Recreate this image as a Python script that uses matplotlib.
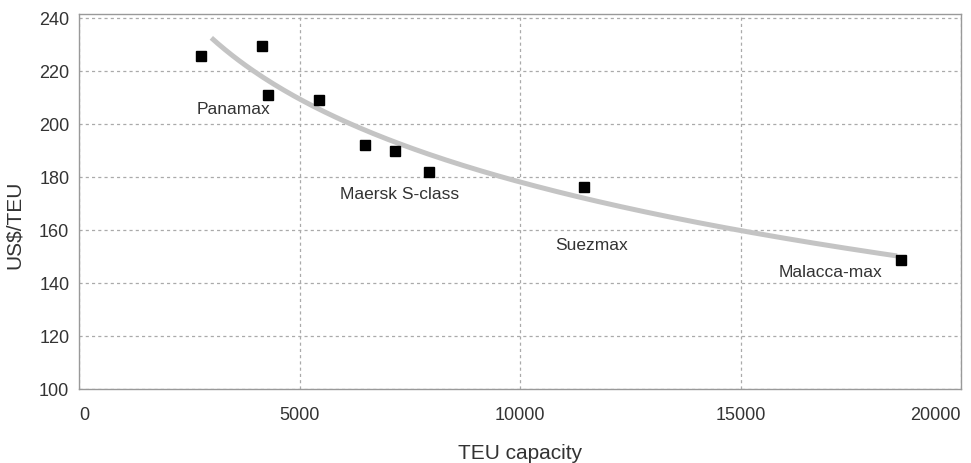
import numpy as np
import matplotlib
matplotlib.use("Agg")
import matplotlib.pyplot as plt

# Ship size vs. cost per TEU
teu_capacity = [2760, 4140, 4280, 5450, 6480, 7170, 7940, 11460, 18640]
cost_per_teu = [225.6, 229.4, 211.0, 209.0, 192.0, 189.8, 182.0, 176.2, 148.7]

# Class labels and where they sit
class_names = ["Panamax", "Maersk S-class", "Suezmax", "Malacca-max"]
class_x = [3500, 7260, 11620, 17050]
class_y = [206.0, 173.6, 154.7, 144.2]

# trend line (logarithmic) end points
trend_x = [3000, 18550]
trend_y = [232.5, 150.2]

x_ticks = [0, 5000, 10000, 15000, 20000]
y_ticks = [100, 120, 140, 160, 180, 200, 220, 240]

plt.rcParams['font.family'] = ['Liberation Sans', 'DejaVu Sans']

fig = plt.figure(figsize=(9.71, 4.64), dpi=100)
ax = fig.add_axes([0.0814, 0.1595, 0.9083, 0.8082])

# y = a + b*ln(x) through the two end points
b = (trend_y[1] - trend_y[0]) / (np.log(trend_x[1]) - np.log(trend_x[0]))
a = trend_y[0] - b * np.log(trend_x[0])
tx = np.linspace(trend_x[0], trend_x[1], 200)
ax.plot(tx, a + b * np.log(tx), color='#c4c4c4', lw=3.6,
        solid_capstyle='butt', zorder=2)

ax.plot(teu_capacity, cost_per_teu, 's', color='black', ms=7, zorder=3)

for name, x, y in zip(class_names, class_x, class_y):
    ax.text(x, y, name, ha='center', va='center', fontsize=12.5, color='#333333')

ax.set_xlim(0, 20000)
ax.set_ylim(100, 241.5)
ax.set_xticks(x_ticks)
ax.set_yticks(y_ticks)
ax.tick_params(length=0, labelsize=13, colors='#333333')
ax.tick_params(axis='x', pad=12)
ax.tick_params(axis='y', pad=7)
# edge labels sit inside the frame
xlabels = ax.get_xticklabels()
xlabels[0].set_ha('left')
xlabels[-1].set_ha('right')

ax.grid(True, linestyle=(0, (2.5, 2.5)), color='#aaaaaa', lw=0.9)
for s in ax.spines.values():
    s.set_color('#999999')
    s.set_linewidth(1.0)

ax.set_xlabel('TEU capacity', fontsize=15, color='#333333', labelpad=15)
ax.set_ylabel('US$/TEU', fontsize=15, color='#333333')
ax.yaxis.set_label_coords(-0.062, 0.44)

fig.savefig('out.png', dpi=100)
